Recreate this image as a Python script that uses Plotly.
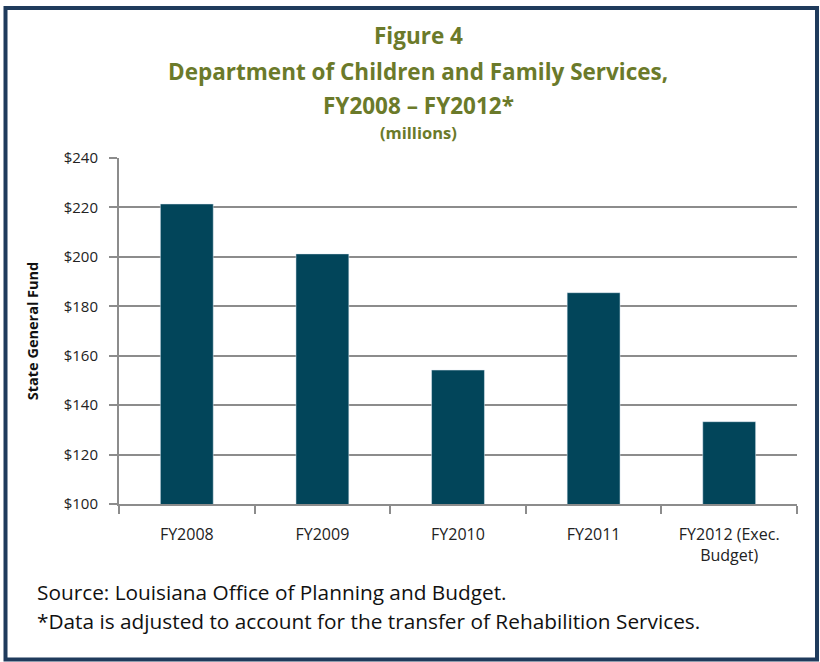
import plotly.graph_objects as go

categories = ["FY2008", "FY2009", "FY2010", "FY2011", "FY2012 (Exec.<br>Budget)"]
values = [221.4, 201.2, 154.2, 185.5, 133.3]
y_ticks = [100, 120, 140, 160, 180, 200, 220, 240]
y_tick_labels = ["$" + str(v) for v in y_ticks]

W, H = 820, 662
L, R, T, B = 119, 23, 158, 158
PW, PH = W - L - R, H - T - B

def px_x(px):
    return (px - L) / PW

def px_y(py):
    return (H - B - py) / PH

FONT = "Open Sans, Arial"
TITLE_C = "#6B7A2A"

fig = go.Figure(go.Bar(x=categories, y=values, marker_color="#02455A", width=0.39))

fig.update_layout(
    width=W, height=H,
    margin=dict(l=L, r=R, t=T, b=B),
    paper_bgcolor="white", plot_bgcolor="white",
    showlegend=False,
    font=dict(family=FONT, color="#222222"),
)
fig.update_yaxes(
    range=[100, 240], tickvals=y_ticks, ticktext=y_tick_labels,
    showgrid=True, gridcolor="#8C8C8C", gridwidth=2,
    showline=True, linecolor="#8C8C8C", linewidth=2,
    ticks="outside", ticklen=8, tickcolor="#8C8C8C", tickwidth=2,
    ticklabelstandoff=8,
    tickfont=dict(size=15, family=FONT, color="#222222"),
    zeroline=False,
    title=dict(text="<b>State General Fund</b>", font=dict(size=14.5, family=FONT, color="#111111"), standoff=22),
)
fig.update_xaxes(
    showline=True, linecolor="#8C8C8C", linewidth=2,
    ticks="outside", ticklen=8, tickcolor="#8C8C8C", tickwidth=2,
    tickson="boundaries",
    ticklabelstandoff=15,
    tickfont=dict(size=16, family=FONT, color="#222222"),
)

annos = [
    ("<b>Figure 4</b>", 35, 22.5, TITLE_C),
    ("<b>Department of Children and Family Services,</b>", 72, 22.5, TITLE_C),
    ("<b>FY2008 – FY2012*</b>", 105, 22.5, TITLE_C),
    ("<b>(millions)</b>", 133, 16.5, TITLE_C),
]
for text, py, size, col in annos:
    fig.add_annotation(text=text, xref="paper", yref="paper", x=px_x(418), y=px_y(py),
                       xanchor="center", yanchor="middle", showarrow=False,
                       font=dict(size=size, family=FONT, color=col))

for text, py in [("Source: Louisiana Office of Planning and Budget.", 592),
                 ("*Data is adjusted to account for the transfer of Rehabilition Services.", 621)]:
    fig.add_annotation(text=text, xref="paper", yref="paper", x=px_x(35), y=px_y(py),
                       xanchor="left", yanchor="middle", showarrow=False,
                       font=dict(size=20.8, family=FONT, color="#111111"))

fig.add_shape(type="rect", xref="paper", yref="paper",
              x0=px_x(5.5), x1=px_x(817), y0=px_y(659.5), y1=px_y(8),
              line=dict(color="#1F3B5C", width=4), fillcolor="rgba(0,0,0,0)", layer="below")

fig.write_html("out.html", config={"displayModeBar": False},
               post_script="document.body.style.margin='0';document.body.style.overflow='hidden';")
